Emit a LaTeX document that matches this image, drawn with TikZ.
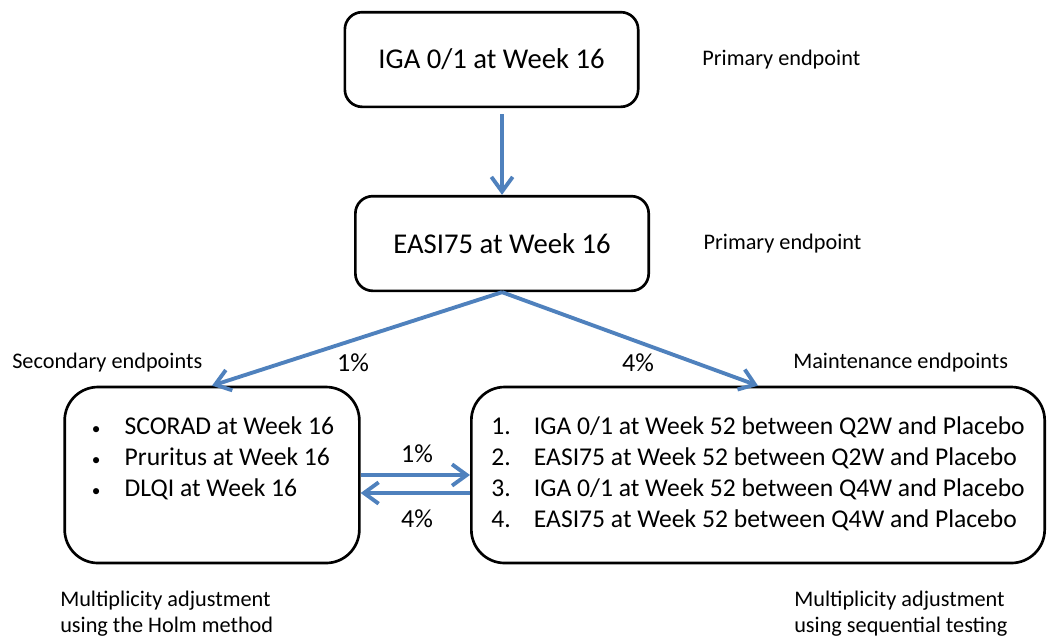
\documentclass[tikz,border=0pt]{standalone}
\usepackage{fontspec}
\setmainfont{Carlito}
\usepackage{tikz}
\usetikzlibrary{arrows.meta,positioning}

\definecolor{flowblue}{RGB}{79,129,189}
\newcommand{\smallbullet}{\makebox[26pt][l]{\hspace{1.5pt}\raisebox{0.5pt}{\fontsize{13}{13}\selectfont\textbullet}}}

\begin{document}
\begin{tikzpicture}[x=0.75pt, y=-0.75pt,
    endpoint/.style={draw, line width=2pt, rounded corners=13pt, minimum width=220pt, minimum height=71pt, font=\fontsize{21.5}{26}\selectfont},
    listbox/.style={draw, line width=2pt, rounded corners=25pt, minimum height=132pt, inner sep=0pt, font=\fontsize{19.2}{23.2}\selectfont},
    flow/.style={draw=flowblue, line width=2.9pt, -{Straight Barb[length=11pt,width=16pt]}},
    pct/.style={font=\fontsize{19.5}{23}\selectfont},
    note/.style={font=\fontsize{16.7}{19.5}\selectfont, align=left, anchor=west, inner sep=0pt}]
    \useasboundingbox (0,0) rectangle (1048,637);

    % Endpoints
    \node[endpoint] (iga) at (491.5,59.5) {IGA 0/1 at Week 16};
    \node[endpoint, below=65pt of iga, xshift=7.9pt] (easi) {EASI75 at Week 16};
    \node[listbox, minimum width=221pt] (secondary) at (212,475) {%
        \raisebox{-2pt}{\begin{tabular}{@{}l@{}}
        \smallbullet SCORAD at Week 16\\
        \smallbullet Pruritus at Week 16\\
        \smallbullet DLQI at Week 16\\
        ~
        \end{tabular}}};
    \node[listbox, minimum width=430pt, right=82pt of secondary] (maintenance) {%
        \raisebox{-2pt}{\begin{tabular}{@{}l@{}}
        \makebox[32pt][l]{1.}IGA 0/1 at Week 52 between Q2W and Placebo\\
        \makebox[32pt][l]{2.}EASI75 at Week 52 between Q2W and Placebo\\
        \makebox[32pt][l]{3.}IGA 0/1 at Week 52 between Q4W and Placebo\\
        \makebox[32pt][l]{4.}EASI75 at Week 52 between Q4W and Placebo
        \end{tabular}}};

    % Notes
    \node[note, right=47pt of iga] (primary1) {Primary endpoint};
    \node[note, right=40pt of easi] (primary2) {Primary endpoint};
    \node[note] (secondarylabel) at (12,363) {Secondary endpoints};
    \node[note] (maintenancelabel) at (793,363) {Maintenance endpoints};
    \node[note] (holm) at (60,614) {Multiplicity adjustment\\using the Holm method};
    \node[note] (sequential) at (794,614) {Multiplicity adjustment\\using sequential testing};

    % Alpha split
    \node[pct] (splitleft) at (353,363) {1\%};
    \node[pct] (splitright) at (638,363) {4\%};
    \node[pct] (passright) at (417,454) {1\%};
    \node[pct] (passleft) at (417,519) {4\%};

    % Transitions
    \draw[flow, shorten <=4.5pt] (easi.north |- iga.south) -- (easi.north);
    \draw[flow] (easi.south) -- (secondary.north);
    \draw[flow] (easi.south) -- (maintenance.north);
    \draw[flow] (secondary.east) -- (maintenance.west);
    \draw[flow] ([yshift=-13.5pt]maintenance.west) -- ([yshift=-13.5pt]secondary.east);
\end{tikzpicture}
\end{document}
